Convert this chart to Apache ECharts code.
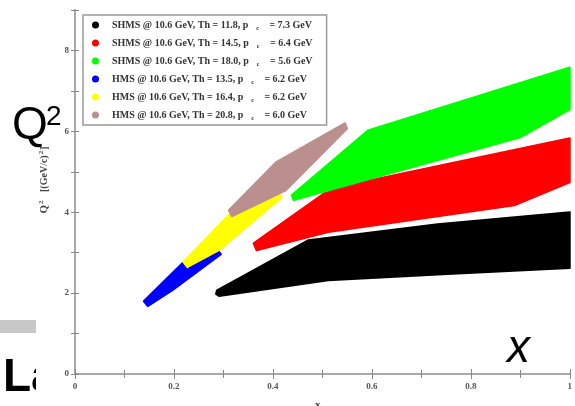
<!DOCTYPE html>
<html>
<head>
<meta charset="utf-8">
<script src="https://cdn.jsdelivr.net/npm/echarts@6/dist/echarts.min.js"></script>
<style>
  html, body { margin: 0; padding: 0; background: #fff; }
  #chart { width: 575px; height: 406px; }
</style>
</head>
<body>
<div id="chart"></div>
<script>
// band outlines, [x_Bj, Q2] walked round each band
const shmsTh118 = [[0.285, 1.98], [0.287, 2.07], [0.472, 3.31], [0.733, 3.70], [1.0, 4.00],
                   [1.0, 2.62], [0.753, 2.47], [0.512, 2.32], [0.291, 1.93]];
const shmsTh145 = [[0.361, 3.23], [0.518, 4.59], [1.0, 5.83],
                   [1.0, 4.74], [0.888, 4.17], [0.512, 3.51], [0.367, 3.06]];
const shmsTh180 = [[0.438, 4.42], [0.592, 6.02], [1.0, 7.58],
                   [1.0, 6.54], [0.900, 5.85], [0.442, 4.30]];
const hmsTh135 = [[0.139, 1.80], [0.217, 2.74], [0.287, 3.09],
                  [0.295, 2.96], [0.197, 2.07], [0.147, 1.68]];
const hmsTh164 = [[0.219, 2.77], [0.311, 3.93], [0.406, 4.52],
                  [0.418, 4.37], [0.291, 3.06], [0.227, 2.64]];
const hmsTh208 = [[0.311, 4.05], [0.406, 5.23], [0.546, 6.20],
                  [0.550, 6.07], [0.426, 4.54], [0.317, 3.90]];

const bands = [shmsTh118, shmsTh145, shmsTh180, hmsTh135, hmsTh164, hmsTh208];
const spectrometers = ['SHMS', 'SHMS', 'SHMS', 'HMS', 'HMS', 'HMS'];
const angles = ['11.8', '14.5', '18.0', '13.5', '16.4', '20.8'];
const momenta = ['7.3', '6.4', '5.6', '6.2', '6.2', '6.0'];
const bandColors = ['#000000', '#ff0000', '#00ff00', '#0000ff', '#ffff00', '#bc8f8f'];

const xTicks = ['0', '0.2', '0.4', '0.6', '0.8', '1'];
const yTicks = ['0', '2', '4', '6', '8'];

const names = spectrometers.map((s, i) => s + ' @ 10.6 GeV, Th = ' + angles[i] + ', p_c = ' + momenta[i] + ' GeV');

const chart = echarts.init(document.getElementById('chart'));

const serif = '"Liberation Serif", "DejaVu Serif", serif';
const sans = '"Liberation Sans", Arial, sans-serif';
const axisGrey = '#a8a8a8';

function bandSeries(i) {
  const outline = bands[i];
  return {
    type: 'custom',
    name: names[i],
    coordinateSystem: 'cartesian2d',
    data: outline,
    itemStyle: { color: bandColors[i] },
    silent: true,
    animation: false,
    renderItem: function (params, api) {
      if (params.dataIndex !== 0) return null;
      const pts = outline.map(p => api.coord(p));
      return {
        type: 'polygon',
        shape: { points: pts },
        style: { fill: bandColors[i], stroke: bandColors[i], lineWidth: 2, lineJoin: 'round' }
      };
    }
  };
}

const baseX = {
  type: 'value', min: 0, max: 1, interval: 0.2,
  axisLine: { lineStyle: { color: axisGrey, width: 2 } },
  axisTick: { inside: true, length: 5, lineStyle: { color: '#888' } },
  minorTick: { show: true, splitNumber: 2, length: 4, lineStyle: { color: '#888' } },
  splitLine: { show: false }
};
const baseY = {
  type: 'value', min: 0, max: 9, interval: 1,
  axisLine: { lineStyle: { color: axisGrey, width: 2 } },
  axisTick: { inside: true, length: 4, lineStyle: { color: '#888' } },
  splitLine: { show: false }
};

chart.setOption({
  animation: false,
  backgroundColor: '#fff',
  grid: { left: 75, right: 2, top: 10, bottom: 32 },
  xAxis: [
    Object.assign({}, baseX, {
      position: 'bottom',
      axisLabel: {
        margin: 8, fontFamily: serif, fontWeight: 'bold', fontSize: 9, color: '#555',
        formatter: v => xTicks[Math.round(v / 0.2)]
      }
    }),
    Object.assign({}, baseX, { position: 'top', axisLabel: { show: false } })
  ],
  yAxis: [
    Object.assign({}, baseY, {
      position: 'left',
      axisLabel: {
        margin: 6, fontFamily: serif, fontWeight: 'bold', fontSize: 9, color: '#555',
        formatter: v => (v % 2 === 0 ? yTicks[v / 2] : '')
      }
    }),
    Object.assign({}, baseY, { position: 'right', axisLabel: { show: false } })
  ],
  legend: {
    orient: 'vertical',
    left: 83, top: 15,
    padding: [5, 14, 4, 9],
    itemGap: 7,
    itemWidth: 7, itemHeight: 7,
    icon: 'circle',
    backgroundColor: '#fff',
    borderColor: '#999',
    borderWidth: 1.5,
    borderRadius: 0,
    data: names,
    formatter: function (name) {
      const i = names.indexOf(name);
      return '{t|' + spectrometers[i] + ' @ 10.6 GeV, Th = ' + angles[i] + ', p}{s|c}{t| = ' + momenta[i] + ' GeV}';
    },
    textStyle: {
      padding: [0, 0, 0, 8],
      rich: {
        t: { fontFamily: serif, fontWeight: 'bold', fontSize: 10, color: '#333', lineHeight: 10 },
        s: { fontFamily: serif, fontWeight: 'bold', fontSize: 6, color: '#333', padding: [6, 8, 0, 8] }
      }
    }
  },
  series: bands.map((b, i) => bandSeries(i)),
  graphic: [
    { type: 'rect', shape: { x: 0, y: 320, width: 36, height: 13 }, style: { fill: '#c8c8c8' } },
    { type: 'text', x: 3, y: 401, style: { text: 'La', font: 'bold 46px ' + sans, fill: '#000', verticalAlign: 'bottom' }, z: 1 },
    { type: 'rect', shape: { x: 36, y: 350, width: 26, height: 56 }, style: { fill: '#fff' }, z: 2 },
    { type: 'text', x: 12, y: 149, style: { text: 'Q', font: '46px ' + sans, fill: '#000', verticalAlign: 'bottom' }, z: 3 },
    { type: 'text', x: 46, y: 131, style: { text: '2', font: '28px ' + sans, fill: '#000', verticalAlign: 'bottom' }, z: 3 },
    { type: 'text', x: 507, y: 372, style: { text: 'x', font: 'italic 46px ' + sans, fill: '#000', verticalAlign: 'bottom' }, z: 3 },
    {
      type: 'text', x: 44, y: 180, rotation: Math.PI / 2,
      style: {
        text: '{q|Q}{s|2}{t|   [(GeV/c)}{s|2}{t|]}',
        align: 'center', verticalAlign: 'middle',
        rich: {
          q: { fontFamily: serif, fontWeight: 'bold', fontSize: 11, fill: '#444' },
          t: { fontFamily: serif, fontWeight: 'bold', fontSize: 10, fill: '#444' },
          s: { fontFamily: serif, fontWeight: 'bold', fontSize: 7, fill: '#444', padding: [0, 1, 6, 1] }
        }
      }
    },
    {
      type: 'text', x: 315, y: 399,
      style: {
        text: '{t|x}{s|Bj}',
        rich: {
          t: { fontFamily: serif, fontWeight: 'bold', fontSize: 11, fill: '#444' },
          s: { fontFamily: serif, fontWeight: 'bold', fontSize: 7, fill: '#444', padding: [6, 0, 0, 0] }
        }
      }
    }
  ]
});
</script>
</body>
</html>
